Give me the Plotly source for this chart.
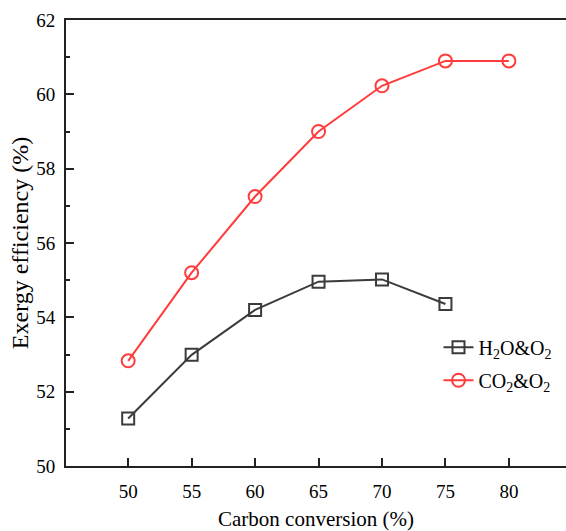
import plotly.graph_objects as go

carbon_conversion = [50, 55, 60, 65, 70, 75, 80]
h2o_o2 = [51.28, 52.99, 54.20, 54.96, 55.02, 54.36]
co2_o2 = [52.83, 55.20, 57.25, 59.00, 60.23, 60.90, 60.90]
series_names = ["H<sub>2</sub>O&O<sub>2</sub>", "CO<sub>2</sub>&O<sub>2</sub>"]
x_ticks = [50, 55, 60, 65, 70, 75, 80]
y_ticks = [50, 52, 54, 56, 58, 60, 62]

FONT = "Liberation Serif, Times New Roman, serif"

fig = go.Figure()
fig.add_trace(go.Scatter(
    x=carbon_conversion[:len(h2o_o2)], y=h2o_o2, name=series_names[0],
    mode="lines+markers", legendgroup="a",
    line=dict(color="#3b3b3b", width=2),
    marker=dict(symbol="square-open", size=12, color="#3b3b3b", line=dict(width=2)),
))
fig.add_trace(go.Scatter(
    x=carbon_conversion, y=co2_o2, name=series_names[1],
    mode="lines+markers", legendgroup="b",
    line=dict(color="#ff3b3b", width=2),
    marker=dict(symbol="circle-open", size=13, color="#ff3b3b", line=dict(width=2)),
))

fig.update_layout(
    width=566, height=531,
    margin=dict(l=66, r=0, t=20, b=65),
    paper_bgcolor="white", plot_bgcolor="white",
    font=dict(family=FONT, size=19, color="black"),
    showlegend=True,
    legend=dict(x=0.745, y=0.31, xanchor="left", yanchor="top",
                bgcolor="rgba(0,0,0,0)", font=dict(size=20),
                tracegroupgap=4),
    xaxis=dict(
        range=[45.1, 84.5], tickvals=x_ticks, ticks="inside", ticklen=8,
        tickwidth=1.5, tickcolor="#222", showline=True, linecolor="#222",
        linewidth=2, mirror=True, showgrid=False, zeroline=False,
        ticklabelstandoff=7,
        title=dict(text="Carbon conversion (%)", font=dict(size=21), standoff=12),
    ),
    yaxis=dict(
        range=[50, 62], tickvals=y_ticks, ticks="inside", ticklen=8,
        tickwidth=1.5, tickcolor="#222", showline=True, linecolor="#222",
        linewidth=2, showgrid=False, zeroline=False,
        ticklabelstandoff=5,
        minor=dict(dtick=1, ticks="inside", ticklen=4, tickcolor="#222", tickwidth=1.5),
        title=dict(text="Exergy efficiency (%)", font=dict(size=24), standoff=1),
    ),
)

fig.write_html("out.html")
